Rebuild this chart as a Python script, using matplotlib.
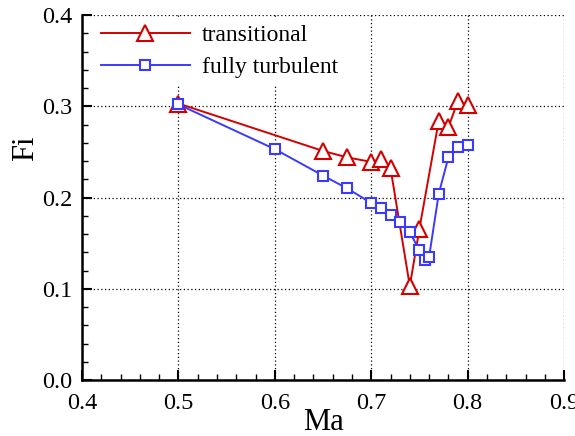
import matplotlib
matplotlib.use("Agg")
import matplotlib.pyplot as plt
from matplotlib.ticker import MultipleLocator, FormatStrFormatter

plt.rcParams['font.family'] = ['Liberation Serif', 'DejaVu Serif']

# transitional
ma_tr = [0.50, 0.65, 0.675, 0.70, 0.71, 0.72, 0.74, 0.75, 0.77, 0.78, 0.79, 0.80]
fi_tr = [0.303, 0.251, 0.244, 0.239, 0.242, 0.232, 0.103, 0.166, 0.284, 0.277, 0.306, 0.301]

# fully turbulent
ma_ft = [0.50, 0.60, 0.65, 0.675, 0.70, 0.71, 0.72, 0.73, 0.74, 0.75, 0.756, 0.76, 0.77, 0.78, 0.79, 0.80]
fi_ft = [0.302, 0.253, 0.224, 0.210, 0.194, 0.188, 0.181, 0.173, 0.162, 0.142, 0.131, 0.135, 0.204, 0.244, 0.255, 0.258]

red = '#d40000'
blue = '#3a3aff'

fig = plt.figure(figsize=(5.75, 4.36), dpi=100)
ax = fig.add_axes([0.1426, 0.1284, 0.981 - 0.1426, 0.9656 - 0.1284])

ax.plot(ma_tr, fi_tr, color=red, lw=1.4, marker='^', markersize=11,
        markerfacecolor='white', markeredgecolor=red, markeredgewidth=1.5,
        label='transitional', zorder=3)
ax.plot(ma_ft, fi_ft, color=blue, lw=1.4, marker='s', markersize=7.5,
        markerfacecolor='white', markeredgecolor=blue, markeredgewidth=1.5,
        label='fully turbulent', zorder=3)

ax.set_xlim(0.4, 0.9)
ax.set_ylim(0.0, 0.4)
ax.xaxis.set_major_locator(MultipleLocator(0.1))
ax.xaxis.set_minor_locator(MultipleLocator(0.02))
ax.yaxis.set_major_locator(MultipleLocator(0.1))
ax.yaxis.set_minor_locator(MultipleLocator(0.02))
ax.xaxis.set_major_formatter(FormatStrFormatter('%.1f'))
ax.yaxis.set_major_formatter(FormatStrFormatter('%.1f'))

for s in ['top', 'right']:
    ax.spines[s].set_visible(False)
for s in ['left', 'bottom']:
    ax.spines[s].set_linewidth(1.8)

ax.tick_params(which='major', direction='in', length=7, width=1.5, labelsize=17.5)
ax.tick_params(axis='x', which='major', pad=9)
ax.tick_params(axis='y', which='major', pad=7)
ax.tick_params(which='minor', direction='in', length=4, width=1.0)
ax.grid(True, which='major', color='black', linestyle=(0, (1, 2)), linewidth=0.9)
ax.set_axisbelow(True)

ax.set_xlabel('Ma', fontsize=22, labelpad=-4)
ax.set_ylabel('Fi', fontsize=22)
ax.yaxis.set_label_coords(-0.087, 0.636)

leg = ax.legend(loc='upper left', bbox_to_anchor=(0.019, 1.0), fontsize=17,
                frameon=True, handlelength=3.8, borderaxespad=0.1,
                labelspacing=0.45, handletextpad=0.5, borderpad=0.3)
leg.get_frame().set_edgecolor('none')
leg.get_frame().set_facecolor('white')
leg.get_frame().set_alpha(1)

fig.savefig('out.png', dpi=100)
